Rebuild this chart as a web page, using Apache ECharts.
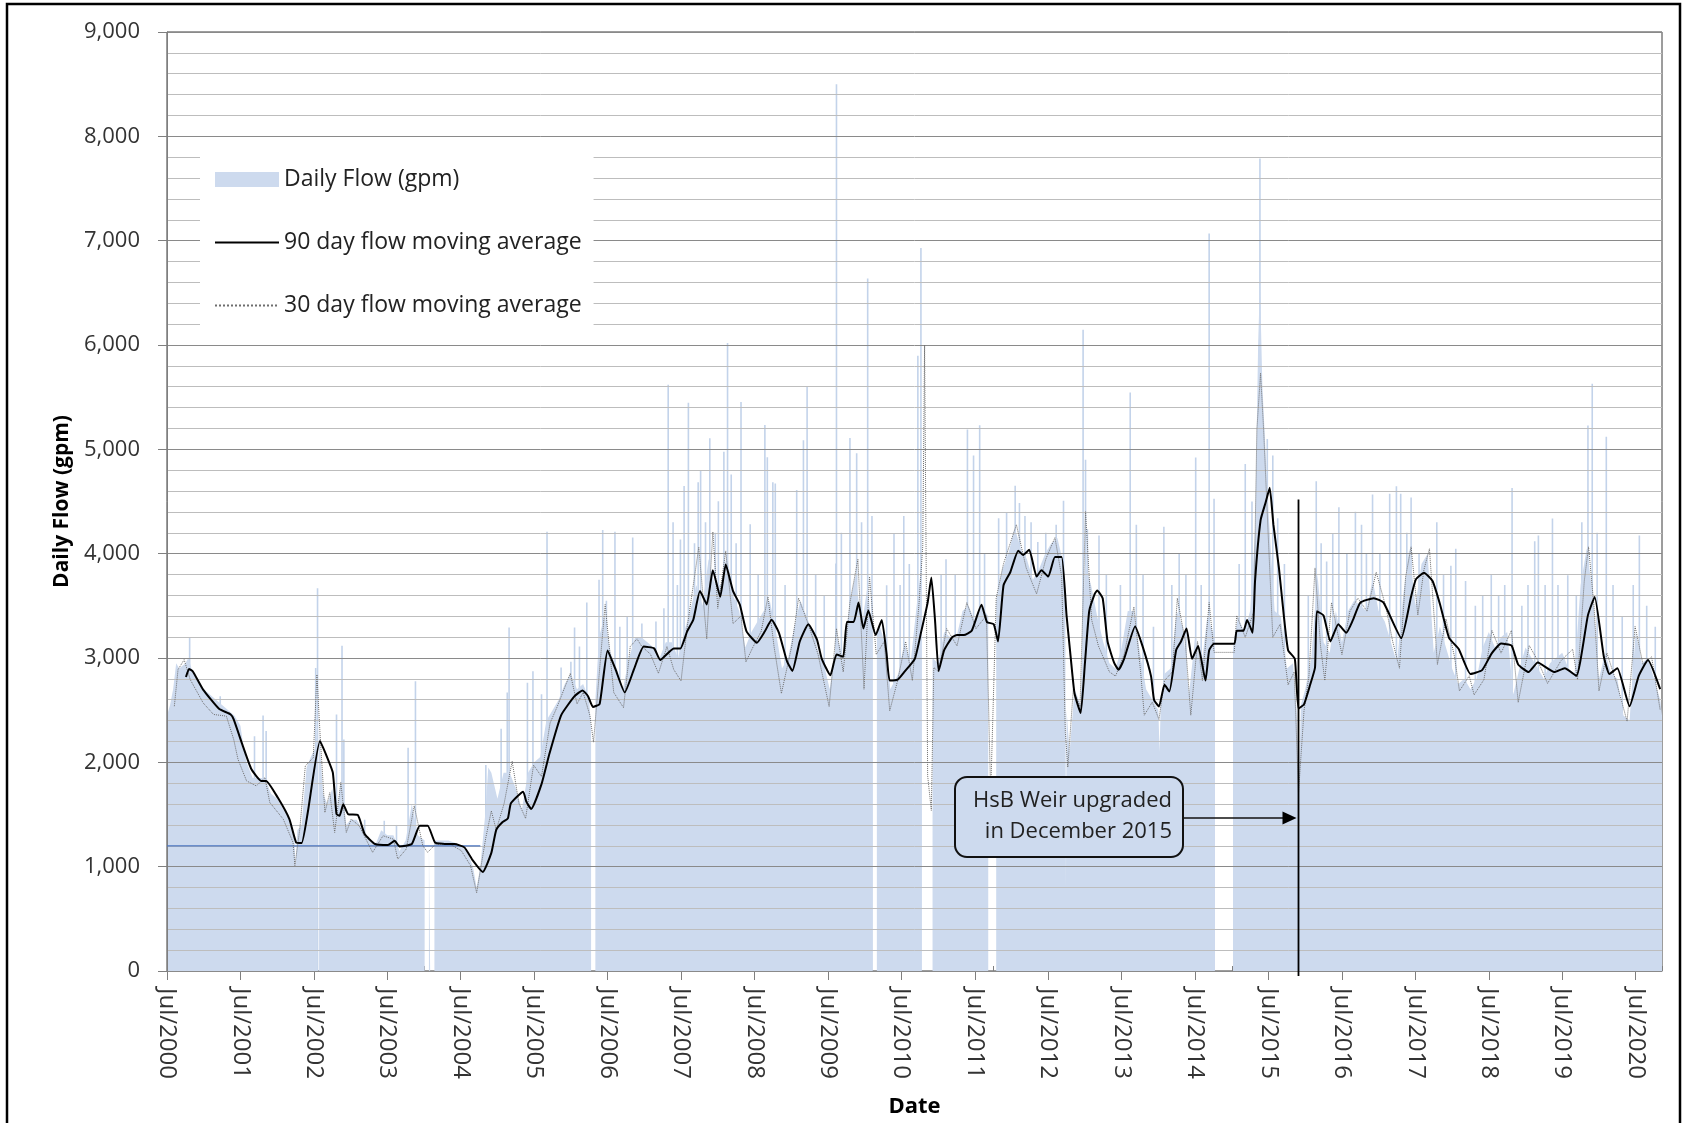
<!DOCTYPE html>
<html>
<head>
<meta charset="utf-8">
<script src="https://cdn.jsdelivr.net/npm/echarts@6/dist/echarts.min.js"></script>
<style>
html,body{margin:0;padding:0;background:#fff;}
#chart{width:1682px;height:1123px;}
</style>
</head>
<body>
<div id="chart"></div>
<script>
// x values are months counted from Jul 2000
const tickYears = [2000,2001,2002,2003,2004,2005,2006,2007,2008,2009,2010,2011,2012,2013,2014,2015,2016,2017,2018,2019,2020];

const dailyFlow = [
[0,2450],[0.5,2550],[1,2700],[1.5,2950],[2,2900],[3,2950],[3.5,3000],[4,2900],[5,2800],[6,2700],[7,2650],[8,2600],[9,2550],[10,2500],[11,2450],[12,2350],[12.5,2150],[13,2000],[14,1850],[15,1850],[16,1850],[17,1700],[18,1650],[19,1550],[20,1450],[20.8,1300],[21,1000],[21.3,1350],[22,1400],[22.8,1950],[23.5,2050],[24.3,2150],[24.6,2400],[24.7,null],[24.85,2300],[25.5,1700],[26.2,1600],[27,1750],[27.7,1500],[28.5,1850],[29.3,1400],[30,1450],[31,1450],[32,1350],[33,1250],[34,1200],[35,1350],[36,1300],[37,1300],[38,1150],[39,1250],[40,1600],[41,1300],[42.1,1250],[42.2,null],[42.8,1250],[43.0,1250],[43.1,null],[43.7,1250],[44.5,1250],[46,1250],[47,1230],[48,1200],[49,1150],[50,1000],[50.6,800],[51.2,1000],[52,1500],[52.5,1950],[53,1900],[54,1650],[55,1900],[56,1900],[57,1750],[58,1550],[59,1900],[60,2000],[61,2050],[62,2400],[63,2500],[64,2600],[65,2750],[66,2850],[67,2700],[68,2750],[69,2600],[69.3,2300],[69.4,null],[70.0,2600],[70.6,3200],[71.5,3400],[72.5,3050],[73.5,2900],[74.5,2700],[75.5,3000],[76.5,3200],[77.5,3200],[78.5,3150],[79.5,3100],[80.5,3000],[81.5,3150],[82.5,3150],[83.5,3000],[84.5,3250],[85.5,3450],[86.5,3700],[87.5,3500],[88.5,3950],[89.5,3700],[90.5,3700],[91.5,4000],[92.5,3600],[93.5,3450],[94.5,3100],[95.5,3250],[96.5,3350],[97.5,3450],[98.5,3550],[99.5,3250],[100.5,2900],[101.5,3000],[102.5,3300],[103.5,3550],[104.5,3400],[105.5,3250],[106.5,3050],[107.5,2900],[108.3,2700],[109.5,3200],[110.5,3000],[111.5,3500],[112.5,3800],[113.5,3300],[114.5,3700],[115.2,3250],[115.3,null],[116.0,3250],[116.5,3300],[117.5,3100],[118.2,2700],[119.5,2850],[120.5,3150],[121.5,2950],[122.5,3500],[123.3,3900],[123.4,null],[125.1,3000],[126,2950],[127,3250],[128,3200],[129,3200],[130,3450],[131,3500],[132,3350],[133,3500],[134.2,3400],[134.3,null],[135.5,3550],[136.5,3850],[137.5,4000],[138.5,4250],[139.5,4050],[140.5,3950],[141.5,3750],[142.5,3850],[143.5,4000],[144.5,4100],[145.5,4150],[146.5,3900],[146.8,3400],[146.9,800],[147.0,2500],[147.5,2100],[148.3,2700],[149.3,2550],[150,3900],[151,3700],[152,3400],[153,3150],[154,2950],[155,2900],[156,3100],[157,3450],[158,3450],[159,3050],[160,2700],[161,2600],[162,2500],[162.2,2100],[162.4,2600],[163,2850],[164,2900],[165,3450],[166,3300],[167,2650],[168,3200],[169,2900],[170,3400],[171.2,3200],[171.3,null],[174.2,3100],[175,3400],[176,3250],[177,3450],[177.8,4200],[178.3,6000],[178.6,6600],[179,5600],[179.5,5000],[180,4400],[181,3450],[182,3400],[183,2900],[184,2950],[184.6,2500],[184.9,1700],[185.3,2550],[186,2700],[187,3000],[188,3800],[189,3150],[190,3050],[191,3450],[192,3150],[193,3450],[194,3550],[195,3500],[196,3450],[197,3750],[198,3450],[199,3350],[200,3150],[201,2950],[202,3600],[203,4050],[204,3500],[205,3900],[206,4000],[207,3050],[208,3300],[209,3100],[210,2900],[211,2750],[212,2800],[213,2700],[214,2800],[215,3100],[216,3250],[217,3100],[218,3200],[219,3250],[220,2650],[221,2900],[222,3100],[223,3000],[224,2900],[225,2800],[226,2950],[227,3000],[228,3050],[229,2900],[230,2850],[231,3700],[232,4050],[233,3600],[234,2800],[235,3050],[236,2850],[237,2800],[238,2450],[239,2400],[240,3250],[241,2950],[242,3000],[243,2800],[244,2600],[244.3,2450]
];

const dailySpikes = [
[3.7,3200],[8.7,2634],[14.3,2250],[15.7,2450],[16.2,2300],[24.3,2904],[24.6,3669],[27.7,2459],[28.6,3118],[28.9,2220],[32.3,1450],[35.5,1440],[37.5,1400],[39.4,2140],[40.6,2777],
[52.1,1974],[52.6,1901],[54.6,2322],[55.6,2670],[55.9,3293],[58.9,2762],[59.8,2872],[61.2,2652],[62.1,4209],[64.4,2908],[66.0,2963],[66.6,3293],[67.4,3110],[68.6,3531],[70.6,3751],[71.2,4227],[71.8,3549],[73.2,4209],[74.0,3300],[75.2,3400],[76.1,4154],[77.6,3330],[79.9,3350],
[81.2,3476],[81.9,5619],[82.7,4300],[83.4,3700],[83.9,4135],[84.5,4648],[85.2,5447],[86.2,4100],[86.8,4685],[87.2,4795],[88.0,4300],[88.7,5106],[89.6,4200],[90.1,4502],[91.0,4978],[91.6,6020],[92.2,4758],[93.0,4100],[93.8,5454],[95.3,4282],[96.6,3800],[97.7,5234],[98.1,4923],[99.0,4685],[99.4,4672],
[101.0,3700],[102.9,4610],[104.0,5087],[104.6,5606],[106.0,3800],[107.4,3600],[109.3,3905],[109.4,8500],[110.2,4200],[111.6,5108],[112.7,4963],[113.5,4300],[114.5,6637],[115.2,4361],[117.6,3697],[118.8,4195],[119.8,3700],[120.4,4361],[121.3,3900],[122.7,5896],[123.2,6930],
[126.5,3800],[127.3,3946],[128.8,3800],[130.8,5191],[131.8,4942],[132.8,5232],[133.6,4000],[135.9,4340],[137.2,4400],[138.6,4651],[139.3,4485],[140.2,4361],[141.2,4300],[142.3,4112],[143.6,4200],[145.3,4278],[146.5,4506],[149.7,6145],[150.1,4900],[150.4,4237],[152.3,4174],[153.5,3800],[155.8,3700],
[157.4,5544],[158.4,4278],[159.5,3800],[161.2,3300],[162.9,4257],[164.2,3700],[165.4,4000],[166.5,3800],[168.1,4921],[169.0,3700],[170.3,7069],[171.1,4527],
[175.2,3900],[176.2,4859],[177.3,4500],[178.6,7788],[179.8,5100],[180.7,4942],[181.5,4340],[182.6,3900],[186.5,3600],[187.8,4693],[188.6,4100],[189.5,3925],[190.5,4195],[191.5,4444],[192.8,4000],[194.2,4402],[195.2,4278],[196.0,4000],[197.0,4568],[198.2,4000],
[199.8,4575],[200.9,4647],[201.6,4575],[202.6,4200],[203.3,4538],[204.6,4000],[205.8,3920],[207.5,4302],[208.6,3800],[209.8,3884],[210.6,4047],[212.2,3738],[213.8,3500],[215.0,3600],[216.4,3800],[217.6,3600],[218.6,3700],
[219.8,4629],[221.4,3500],[222.4,3700],[223.5,4120],[224.1,4175],[225.2,3700],[226.4,4338],[227.3,3700],[228.9,3793],[230.3,3600],[231.2,4300],[232.2,5229],[232.9,5629],[233.7,4200],[235.2,5120],[236.3,3700],[237.8,3400],[239.6,3700],[240.6,4175],[241.8,3500],[243.2,3300]
];

const ma90 = [
[3.1,2818],[3.6,2895],[4.2,2873],[5.9,2697],[8.5,2513],[10.4,2459],[10.9,2411],[12.4,2156],[13.8,1933],[15.4,1822],[16.2,1822],[18.1,1662],[20.0,1455],[21.1,1232],[22.0,1226],[23.0,1519],[25.0,2204],[26.3,2029],[27.1,1901],[27.7,1503],[28.2,1487],[28.8,1599],[29.6,1503],[31.2,1494],[32.3,1312],[34.0,1217],[36.1,1207],[37.2,1248],[38.0,1194],[40.0,1217],[41.3,1392],[42.6,1392],[43.8,1232],[45.4,1217],[47.0,1217],[48.6,1185],[50.0,1057],[51.6,949],
[53.0,1132],[53.8,1352],[54.8,1425],[55.7,1462],[56.2,1608],[58.2,1718],[58.7,1626],[59.5,1553],[61.2,1791],[62.5,2084],[64.4,2451],[66.6,2634],[67.9,2689],[68.8,2634],[69.6,2531],[70.7,2560],[72.0,3073],[73.3,2890],[74.8,2670],[76.3,2890],[77.9,3110],[79.6,3092],[80.6,2982],[82.8,3092],[83.9,3092],[85.0,3256],[86.0,3366],[87.1,3641],[88.2,3513],[89.2,3842],[90.4,3586],[91.3,3897],[92.5,3641],[93.6,3513],[94.7,3256],[96.4,3147],[97.7,3256],[98.8,3366],
[100.0,3241],[101.3,2971],[102.2,2876],[103.4,3158],[104.8,3324],[106.2,3178],[107.0,2992],[108.4,2834],[109.4,3033],[110.5,3012],[111.1,3344],[112.2,3344],[113.0,3531],[113.8,3282],[114.6,3456],[115.8,3220],[116.8,3365],[117.6,3033],[118.1,2784],[119.4,2793],[120.5,2867],[122.2,2992],[123.2,3241],[124.3,3531],[124.9,3772],[125.5,3365],[126.1,2876],[127.0,3075],[128.3,3199],[129.1,3220],[130.2,3220],[131.5,3261],[133.1,3510],[134.0,3344],[135.1,3324],[135.8,3158],[136.7,3697],[137.8,3822],[139.1,4029],[139.9,3988],[140.9,4037],[142.1,3780],[142.9,3842],[144.0,3780],[145.1,3967],[146.2,3967],[147.0,3407],[147.7,2992],[148.3,2660],[149.3,2473],
[150.0,2950],[150.7,3448],[151.6,3614],[152.0,3647],[152.9,3573],[153.7,3158],[154.8,2950],[155.5,2888],[156.4,2992],[158.2,3303],[159.4,3116],[160.8,2826],[161.3,2598],[162.1,2535],[163.0,2743],[163.8,2680],[164.9,3075],[165.7,3158],[166.6,3282],[167.5,2992],[168.5,3116],[169.7,2784],[170.3,3075],[171.1,3137],[174.4,3137],[174.8,3261],[175.9,3261],[176.5,3365],[177.4,3241],[177.8,3739],[178.7,4320],[179.5,4485],[180.2,4631],[180.8,4278],[181.7,3863],[182.5,3407],[183.2,3075],[184.3,2992],[184.9,2515],[185.8,2556],[186.8,2743],[187.6,2909],[187.9,3448],[189.0,3407],[190.1,3158],[191.4,3324],[192.7,3241],[193.8,3365],[195.0,3531],[197.2,3573],[198.8,3531],
[201.7,3190],[203.3,3590],[204.1,3756],[205.4,3818],[206.8,3738],[208.0,3520],[209.5,3193],[211.1,3084],[213.0,2847],[214.9,2884],[216.5,3047],[218.0,3138],[219.7,3120],[220.8,2938],[222.5,2865],[224.0,2956],[226.7,2865],[228.4,2902],[230.3,2829],[232.2,3411],[233.3,3585],[234.8,3011],[235.7,2847],[237.0,2902],[239.0,2538],[240.5,2829],[242.0,2982],[244.0,2702]
];

const ma30 = [
[1.2,2538],[1.8,2888],[2.8,2984],[3.8,2793],[5.9,2570],[7.6,2459],[9.7,2443],[10.9,2220],[11.6,2029],[13.0,1822],[14.6,1774],[16.0,1854],[16.8,1615],[19.0,1455],[20.6,1232],[20.9,1010],[21.7,1360],[22.6,1965],[23.9,2045],[24.5,2841],[25.0,2283],[25.8,1519],[26.6,1710],[27.4,1328],[28.4,1806],[29.3,1328],[30.1,1455],[31.4,1392],[33.6,1137],[35.3,1296],[37.0,1264],[37.7,1073],[39.1,1169],[40.4,1583],[41.8,1201],[42.6,1137],[43.9,1217],[46.2,1217],[48.1,1153],[49.6,1010],[50.6,750],
[52.1,1278],[53.0,1535],[53.8,1352],[55.1,1608],[56.4,2011],[57.5,1608],[58.6,1462],[59.9,1974],[61.2,1864],[62.6,2377],[63.7,2524],[65.9,2853],[67.0,2560],[68.0,2670],[69.1,2451],[69.7,2194],[70.9,3037],[71.6,3513],[73.0,2670],[74.6,2524],[75.7,3110],[76.8,3183],[77.6,3110],[79.0,3037],[80.3,2853],[81.7,3110],[82.8,2890],[84.0,2780],[85.0,3293],[86.9,4062],[88.2,3183],[89.2,4209],[90.0,3476],[91.3,4026],[92.5,3330],[93.8,3403],[94.6,2963],[95.8,3110],[97.1,3256],[98.2,3586],[99.2,3110],[100.4,2660],
[102.1,3116],[103.2,3573],[104.8,3324],[106.4,3033],[108.2,2535],[109.4,3282],[110.5,2867],[111.6,3531],[112.9,3946],[113.9,2701],[114.8,3780],[115.9,3033],[117.2,3158],[118.1,2494],[119.4,2784],[120.7,3158],[121.8,2784],[122.9,3531],[123.5,4071],[123.8,6000],[124.3,1871],[124.9,1539],[125.3,2909],[126.1,2867],[127.4,3282],[129.1,3116],[130.7,3531],[132.2,3282],[133.9,3407],[134.6,1700],[135.5,3573],[136.7,3905],[138.8,4278],[140.4,3863],[142.1,3614],[143.6,3946],[145.1,4154],[146.2,3780],[146.8,2286],[147.2,1954],[148.1,2701],[149.2,2535],
[150.1,4402],[151.1,3365],[152.2,3116],[154.0,2867],[155.0,2826],[156.4,3033],[158.0,3490],[159.1,2867],[159.7,2452],[161.0,2577],[162.1,2411],[163.0,2784],[164.3,2867],[165.1,3573],[166.4,3158],[167.3,2452],[168.4,3158],[169.2,2784],[170.3,3531],[171.1,3054],[174.4,3054],[174.8,3407],[176.2,3199],[177.6,3448],[178.1,5191],[178.7,5730],[179.2,5191],[180.0,4112],[180.7,3199],[181.9,3324],[183.2,2743],[184.2,2867],[184.9,1705],[185.8,2494],[186.6,2826],[187.6,3863],[188.5,3116],[189.2,2784],[190.3,3531],[192.0,3033],[193.3,3448],[194.6,3573],[196.1,3448],[197.6,3822],[199.2,3484],
[200.3,3156],[201.4,2902],[202.4,3775],[203.3,4065],[204.4,3411],[205.4,3847],[206.3,4047],[207.6,2938],[209.0,3374],[210.4,3011],[211.2,2684],[212.8,2829],[213.6,2647],[215.2,2793],[216.5,3265],[218.0,3047],[219.7,3265],[220.8,2575],[222.6,3120],[224.0,2975],[225.6,2756],[227.8,2975],[229.7,3084],[230.5,2793],[231.6,3738],[232.3,4065],[233.2,3484],[234.0,2684],[235.3,3047],[236.9,2756],[238.6,2393],[239.9,3302],[241.2,2938],[242.6,3011],[244.0,2502]
];

const refLine1200 = [[0,1200],[51.2,1200]];
const weirUpgradeMonth = 184.9;
const weirLineTop = 4520;

const FONT = '"Open Sans", "Noto Sans", sans-serif';
const chart = echarts.init(document.getElementById('chart'), null, {renderer:'canvas'});

chart.setOption({
  animation:false,
  backgroundColor:'#ffffff',
  grid:{left:167, right:20, top:32, bottom:152, show:true, borderColor:'#3a3a3a', borderWidth:1, z:0},
  legend:{
    left:200, top:156, orient:'vertical', backgroundColor:'#ffffff',
    padding:[12,12,13,14], itemGap:40, itemWidth:64, itemHeight:15, z:6,
    textStyle:{fontSize:23, lineHeight:20, color:'#222', fontFamily:FONT},
    data:[
      {name:'Daily Flow (gpm)', icon:'rect', itemStyle:{color:'#cddaee'}},
      {name:'90 day flow moving average', itemStyle:{opacity:0}},
      {name:'30 day flow moving average', itemStyle:{opacity:0}}
    ]
  },
  xAxis:[{
    type:'value', min:0, max:244.3, interval:12,
    axisLine:{lineStyle:{color:'#7f7f7f', width:1}},
    axisTick:{show:true, length:9, lineStyle:{color:'#7f7f7f'}},
    splitLine:{show:false},
    axisLabel:{
      rotate:-90, margin:17, fontSize:24, color:'#333', fontFamily:FONT, showMaxLabel:false,
      formatter:function(v){ if (Math.abs(v % 12) > 1e-6) return ''; const y = tickYears[Math.round(v/12)]; return y === undefined ? '' : 'Jul/' + y; }
    },
    name:'Date', nameLocation:'middle', nameGap:125,
    nameTextStyle:{fontSize:22, fontWeight:'bold', color:'#000', fontFamily:FONT}
  },{
    type:'value', min:0, max:244.3, interval:3, position:'bottom',
    axisLine:{show:false}, axisLabel:{show:false}, splitLine:{show:false},
    axisTick:{show:true, inside:true, length:5, lineStyle:{color:'#7f7f7f'}}
  }],
  yAxis:{
    type:'value', min:0, max:9000, interval:1000, z:3,
    axisLine:{show:true, lineStyle:{color:'#7f7f7f'}},
    axisTick:{show:true, length:9, lineStyle:{color:'#7f7f7f'}},
    splitLine:{show:true, lineStyle:{color:'#8a8a8a', width:1}},
    minorTick:{show:false, splitNumber:5},
    minorSplitLine:{show:true, lineStyle:{color:'#bdbdbd', width:1}},
    axisLabel:{margin:27, fontSize:22, color:'#333', fontFamily:FONT,
      formatter:function(v){ return v.toLocaleString('en-US'); }},
    name:'Daily Flow (gpm)', nameLocation:'middle', nameGap:94, nameRotate:90,
    nameTextStyle:{fontSize:21, fontWeight:'bold', color:'#000', fontFamily:FONT}
  },
  series:[
    {name:'Daily Flow (gpm)', type:'bar', data:dailySpikes, barWidth:1.6, z:1, silent:true,
      itemStyle:{color:'#c3d3ea'}},
    {name:'Daily Flow (gpm)', type:'line', data:dailyFlow, symbol:'none', connectNulls:false, z:2, silent:true,
      itemStyle:{color:'#cddaee'},
      lineStyle:{width:0, color:'#cddaee'}, areaStyle:{color:'#cddaee', opacity:1}},
    {name:'ref', type:'line', data:refLine1200, symbol:'none', z:8, silent:true,
      itemStyle:{color:'#4a74c0'}, lineStyle:{color:'#4a74c0', width:1.2}},
    {name:'30 day flow moving average', type:'line', data:ma30, symbol:'none', z:9, silent:true,
      itemStyle:{color:'#6e6e6e'}, lineStyle:{color:'#6e6e6e', width:1, type:'dotted'}},
    {name:'90 day flow moving average', type:'line', data:ma90, symbol:'none', z:10, silent:true, smooth:0.15,
      itemStyle:{color:'#000'}, lineStyle:{color:'#000000', width:2}}
  ]
});

const xw = chart.convertToPixel({xAxisIndex:0}, weirUpgradeMonth);
const yTop = chart.convertToPixel({yAxisIndex:0}, weirLineTop);
const yBase = chart.convertToPixel({yAxisIndex:0}, 0);

chart.setOption({
  graphic:[
    {type:'rect', z:100, shape:{x:7, y:4, width:1673, height:1140}, style:{fill:'none', stroke:'#000', lineWidth:2.5}, silent:true},
    {type:'line', z:50, shape:{x1:xw, y1:yTop, x2:xw, y2:yBase+5}, style:{stroke:'#000', lineWidth:1.8}, silent:true},
    {type:'rect', z:50, shape:{x:955, y:777, width:228, height:80, r:12}, style:{fill:'#cddaee', stroke:'#111', lineWidth:2}, silent:true},
    {type:'text', z:51, style:{x:1172, y:801, text:'HsB Weir upgraded', fill:'#222', font:'22px ' + FONT, textAlign:'right', textVerticalAlign:'middle'}, silent:true},
    {type:'text', z:51, style:{x:1172, y:832, text:'in December 2015', fill:'#222', font:'22px ' + FONT, textAlign:'right', textVerticalAlign:'middle'}, silent:true},
    {type:'line', z:50, shape:{x1:1183, y1:818, x2:xw-14, y2:818}, style:{stroke:'#111', lineWidth:1.5}, silent:true},
    {type:'polygon', z:50, shape:{points:[[xw-16,811.5],[xw-2,818],[xw-16,824.5]]}, style:{fill:'#000'}, silent:true}
  ]
});
</script>
</body>
</html>
